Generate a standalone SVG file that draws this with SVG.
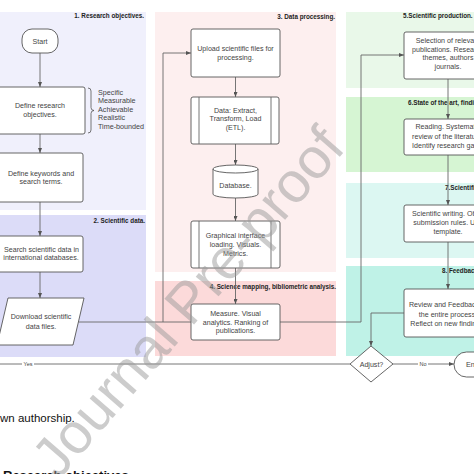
<svg xmlns="http://www.w3.org/2000/svg" width="474" height="474" viewBox="0 0 474 474">
<defs>
<marker id="ah" markerWidth="5" markerHeight="4" refX="5" refY="2" orient="auto" markerUnits="userSpaceOnUse"><path d="M0,0 L5,2 L0,4 z" fill="#555"/></marker>
<style>
.ti{font-family:"Liberation Sans",Arial,sans-serif;font-size:6.3px;font-weight:bold;fill:#222}
.t{font-family:"Liberation Sans",Arial,sans-serif;font-size:7.1px;fill:#444;text-anchor:middle}
.l{font-family:"Liberation Sans",Arial,sans-serif;font-size:7.2px;fill:#444}
.s{font-family:"Liberation Sans",Arial,sans-serif;font-size:5.5px;fill:#444;text-anchor:middle}
.b{fill:#fff;stroke:#555;stroke-width:0.9}
.c{fill:none;stroke:#666;stroke-width:0.9}
.a{marker-end:url(#ah)}
</style>
</defs>
<rect width="474" height="474" fill="#fff"/>
<g id="panels">
<rect x="-5" y="12" width="151" height="198" fill="#f0f0fc"/>
<rect x="-5" y="215" width="151" height="142" fill="#dcdcf8"/>
<rect x="155" y="12" width="181" height="260" fill="#fdefef"/>
<rect x="155" y="281" width="181" height="75" fill="#fcdada"/>
<rect x="346" y="12" width="140" height="76" fill="#e9f8e9"/>
<rect x="346" y="97" width="140" height="75" fill="#d6f5d3"/>
<rect x="346" y="183" width="140" height="75" fill="#dcf7f2"/>
<rect x="346" y="266" width="140" height="90" fill="#bff2e7"/>
<text class="ti" x="144" y="18" text-anchor="end">1. Research objectives.</text>
<text class="ti" x="145" y="223" text-anchor="end">2. Scientific data.</text>
<text class="ti" x="335" y="19" text-anchor="end">3. Data processing.</text>
<text class="ti" x="336" y="288.5" text-anchor="end">4. Science mapping, bibliometric analysis.</text>
<text class="ti" x="403" y="18">5.Scientific production.</text>
<text class="ti" x="408" y="104.5">6.State of the art, findings.</text>
<text class="ti" x="445" y="190">7.Scientific writing.</text>
<text class="ti" x="442" y="273">8. Feedback.</text>
</g>
<g id="connectors">
<path class="c a" d="M40,53 V87"/>
<path class="c a" d="M40,134 V153"/>
<path class="c a" d="M40,202 V236"/>
<path class="c a" d="M40,272 V298"/>
<path class="c a" d="M78.4,322 H163 V53 H191"/>
<path class="c" d="M163,322 H191"/>
<path class="c a" d="M235.5,77 V97"/>
<path class="c a" d="M235.5,144 V165"/>
<path class="c a" d="M235.5,198 V221"/>
<path class="c a" d="M235.5,268 V304"/>
<path class="c a" d="M280,322 H361 V55 H404"/>
<path class="c a" d="M448,79 V119"/>
<path class="c a" d="M448,155 V205"/>
<path class="c a" d="M448,242 V289"/>
<path class="c a" d="M404,313 H371 V346"/>
<path class="c a" d="M393,364 H454"/>
<path class="c" d="M350,364 H-5"/>
<rect x="22" y="361" width="12" height="6" fill="#fff"/>
<text class="s" x="28" y="366">Yes</text>
<rect x="418" y="361" width="10" height="6" fill="#fff"/>
<text class="s" x="423" y="366">No</text>
<path d="M88,88 Q91,88 91,91 L91,107.5 Q91,110.5 94,110.5 Q91,110.5 91,113.5 L91,130 Q91,133 88,133" fill="none" stroke="#555" stroke-width="0.8"/>
</g>
<g id="start"><rect class="b" x="22" y="29" width="36" height="24" rx="10"/><text class="t" x="40" y="43.5">Start</text></g>
<g id="define"><rect class="b" x="-5" y="87" width="90" height="47" rx="2"/><text class="t" x="40" y="107.5">Define research</text><text class="t" x="40" y="116.5">objectives.</text></g>
<g id="smart"><text class="l" x="98" y="94.8">Specific</text><text class="l" x="98" y="103">Measurable</text><text class="l" x="98" y="111.5">Achievable</text><text class="l" x="98" y="120.2">Realistic</text><text class="l" x="98" y="129">Time-bounded</text></g>
<g id="keywords"><rect class="b" x="-5" y="153" width="88" height="49" rx="2"/><text class="t" x="41" y="175.8">Define keywords and</text><text class="t" x="41" y="184.2">search terms.</text></g>
<g id="search"><rect class="b" x="-5" y="236" width="88" height="36" rx="2"/><text class="t" x="41.5" y="251.5">Search scientific data in</text><text class="t" x="41" y="259.8">international databases.</text></g>
<g id="download"><polygon class="b" points="8,298 84,298 73,345 -3,345"/><text class="t" x="41" y="319">Download scientific</text><text class="t" x="41" y="329">data files.</text></g>
<g id="upload"><rect class="b" x="191" y="29" width="89" height="48" rx="2"/><text class="t" x="235.5" y="50.8">Upload scientific files for</text><text class="t" x="235.5" y="59.8">processing.</text></g>
<g id="etl"><rect class="b" x="191" y="97" width="88" height="47" rx="2"/><path class="c" d="M199,97 V144 M271,97 V144" stroke="#555"/><text class="t" x="235.5" y="112.5">Data: Extract,</text><text class="t" x="235.5" y="121">Transform, Load</text><text class="t" x="235.5" y="129.8">(ETL).</text></g>
<g id="database"><path class="b" d="M213,169 V194 A22.5,4 0 0 0 258,194 V169 A22.5,4 0 0 0 213,169 A22.5,4 0 0 0 258,169"/><text class="t" x="235.5" y="188.2">Database.</text></g>
<g id="graphical"><rect class="b" x="191" y="221" width="89" height="47" rx="2"/><path class="c" d="M199,221 V268 M271,221 V268" stroke="#555"/><text class="t" x="235.5" y="237.5">Graphical interface</text><text class="t" x="235.5" y="246.8">loading. Visuals.</text><text class="t" x="235.5" y="255.8">Metrics.</text></g>
<g id="measure"><rect class="b" x="191" y="304" width="89" height="36" rx="2"/><text class="t" x="235.5" y="315.8">Measure. Visual</text><text class="t" x="235.5" y="324.8">analytics. Ranking of</text><text class="t" x="235.5" y="333.2">publications.</text></g>
<g id="selection"><rect class="b" x="404" y="32" width="88" height="47" rx="2"/><text class="t" x="448" y="43">Selection of relevant</text><text class="t" x="448" y="51.5">publications. Research</text><text class="t" x="448" y="59.8">themes, authors</text><text class="t" x="448" y="68.8">journals.</text></g>
<g id="reading"><rect class="b" x="404" y="119" width="88" height="36" rx="2"/><text class="t" x="448" y="129">Reading. Systematic</text><text class="t" x="448" y="138.5">review of the literature.</text><text class="t" x="448" y="148">Identify research gaps.</text></g>
<g id="writing"><rect class="b" x="404" y="205" width="88" height="37" rx="2"/><text class="t" x="448" y="216">Scientific writing. Obey</text><text class="t" x="448" y="225">submission rules. Use</text><text class="t" x="448" y="234">template.</text></g>
<g id="review"><rect class="b" x="404" y="289" width="88" height="48" rx="2"/><text class="t" x="448" y="307">Review and Feedback of</text><text class="t" x="448" y="316.5">the entire process.</text><text class="t" x="448" y="325.5">Reflect on new findings.</text></g>
<g id="adjust"><polygon class="b" points="371,346 393,364 371,382 350,364"/><text class="t" x="371.5" y="366.5">Adjust?</text></g>
<g id="end"><rect class="b" x="454" y="352" width="60" height="25" rx="12.5"/><text class="l" x="466" y="367">End</text></g>
<g id="caption">
<text x="0" y="422" font-family="'Liberation Sans',Arial,sans-serif" font-size="11.5" fill="#111">wn authorship.</text>
<text x="3" y="480" font-family="'Liberation Sans',Arial,sans-serif" font-size="13" font-weight="bold" fill="#111">Research objectives</text>
</g>
<g id="watermark"><text x="0" y="0" transform="translate(58,481) rotate(-49)" font-family="'Liberation Sans',Arial,sans-serif" font-size="57" fill="#9a9a9a" fill-opacity="0.5">Journal Pre-proof</text></g>
</svg>
